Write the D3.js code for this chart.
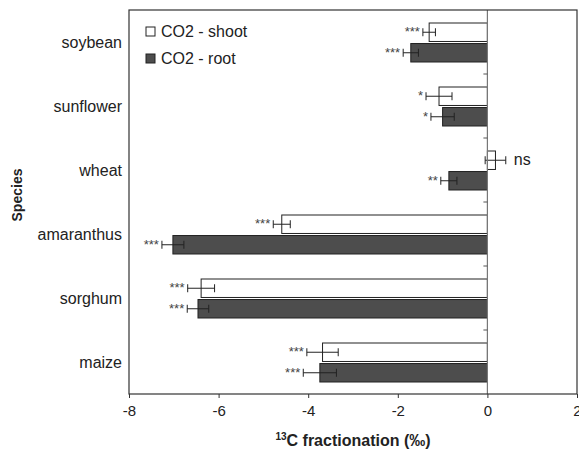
<!DOCTYPE html>
<html lang="en">
<head>
    <meta charset="UTF-8">
    <title>13C fractionation by species</title>
    <script src="https://d3js.org/d3.v7.min.js"></script>
    <style>
        body { margin: 0; background: #fff; }
        text { font-family: "Liberation Sans", Arial, sans-serif; fill: #222; }
        .star { font-size: 13px; fill: #444; }
    </style>
</head>
<body>
    <script>
        // Data
        const species = ["soybean", "sunflower", "wheat", "amaranthus", "sorghum", "maize"];
        const shootValues = [-1.30, -1.08, 0.18, -4.59, -6.39, -3.68];
        const shootErrors = [0.14, 0.29, 0.23, 0.19, 0.30, 0.35];
        const shootSig = ["***", "*", "ns", "***", "***", "***"];
        const rootValues = [-1.71, -1.00, -0.86, -7.02, -6.46, -3.74];
        const rootErrors = [0.17, 0.26, 0.18, 0.245, 0.24, 0.37];
        const rootSig = ["***", "*", "**", "***", "***", "***"];
        const xTicks = [-8, -6, -4, -2, 0, 2];

        const width = 579, height = 449;
        const margin = {top: 10, right: 2, bottom: 55, left: 129};
        const plotW = width - margin.left - margin.right;
        const plotH = height - margin.top - margin.bottom;

        const svg = d3.select("body").append("svg")
            .attr("width", width)
            .attr("height", height);

        const g = svg.append("g").attr("transform", `translate(${margin.left},${margin.top})`);

        const x = d3.scaleLinear().domain([-8, 2]).range([0, plotW]);
        const y = d3.scaleBand().domain(species).range([0, plotH]);
        const sub = d3.scaleBand().domain(["shoot", "root"]).range([13, y.bandwidth() - 12]).paddingInner(0.1);

        const series = [
            {key: "shoot", values: shootValues, errors: shootErrors, sig: shootSig, fill: "#fff"},
            {key: "root", values: rootValues, errors: rootErrors, sig: rootSig, fill: "#4d4d4d"}
        ];

        // bars, error bars, significance
        series.forEach(s => {
            const grp = g.append("g");
            species.forEach((sp, i) => {
                const v = s.values[i], e = s.errors[i];
                const y0 = y(sp) + sub(s.key);
                const h = sub.bandwidth();
                grp.append("rect")
                    .attr("x", x(Math.min(0, v)))
                    .attr("y", y0)
                    .attr("width", Math.abs(x(v) - x(0)))
                    .attr("height", h)
                    .attr("fill", s.fill)
                    .attr("stroke", "#222")
                    .attr("stroke-width", 1);
                const cy = y0 + h / 2;
                const x1 = x(v - e), x2 = x(v + e);
                grp.append("line").attr("x1", x1).attr("x2", x2).attr("y1", cy).attr("y2", cy)
                    .attr("stroke", "#222");
                [x1, x2].forEach(xx => grp.append("line")
                    .attr("x1", xx).attr("x2", xx).attr("y1", cy - 4).attr("y2", cy + 4)
                    .attr("stroke", "#222"));
                if (s.sig[i] === "ns") {
                    grp.append("text")
                        .attr("x", x2 + 8).attr("y", cy + 5)
                        .style("font-size", "16px")
                        .text("ns");
                } else {
                    grp.append("text")
                        .attr("class", "star")
                        .attr("x", x1 - 3).attr("y", cy + 4)
                        .attr("text-anchor", "end")
                        .text(s.sig[i]);
                }
            });
        });

        // zero line with category ticks
        g.append("line").attr("x1", x(0)).attr("x2", x(0)).attr("y1", 0).attr("y2", plotH)
            .attr("stroke", "#777").attr("stroke-width", 1.2);
        species.slice(1).forEach(sp => {
            g.append("line").attr("x1", x(0) - 4).attr("x2", x(0)).attr("y1", y(sp)).attr("y2", y(sp))
                .attr("stroke", "#555");
        });

        // frame
        g.append("rect").attr("width", plotW).attr("height", plotH)
            .attr("fill", "none").attr("stroke", "#333").attr("stroke-width", 1.2);

        // x axis
        const xAxis = g.append("g")
            .attr("transform", `translate(0,${plotH})`)
            .call(d3.axisBottom(x).tickValues(xTicks).tickSize(4).tickPadding(7).tickFormat(d => d));
        xAxis.select(".domain").remove();
        xAxis.selectAll("line").attr("stroke", "#333");
        xAxis.selectAll("text").style("font-family", null).style("font-size", "15px").attr("fill", "#222");

        // y labels
        g.selectAll(".ylab").data(species).enter().append("text")
            .attr("x", -7)
            .attr("y", d => y(d) + y.bandwidth() / 2 + 6)
            .attr("text-anchor", "end")
            .style("font-size", "16px")
            .text(d => d);

        // axis titles
        const xt = svg.append("text")
            .attr("x", margin.left + plotW / 2)
            .attr("y", 446)
            .attr("text-anchor", "middle")
            .style("font-size", "16px")
            .style("font-weight", "bold");
        xt.append("tspan").attr("dy", -6).style("font-size", "10px").text("13");
        xt.append("tspan").attr("dy", 6).text("C fractionation (‰)");

        svg.append("text")
            .attr("transform", `translate(22,195) rotate(-90)`)
            .attr("text-anchor", "middle")
            .style("font-size", "14px")
            .style("font-weight", "bold")
            .text("Species");

        // legend
        const legend = g.append("g").attr("transform", "translate(17,17)");
        series.forEach((s, i) => {
            const row = legend.append("g").attr("transform", `translate(0,${i * 27})`);
            row.append("rect").attr("width", 9).attr("height", 9)
                .attr("fill", s.fill).attr("stroke", "#222");
            row.append("text").attr("x", 15).attr("y", 10)
                .style("font-size", "16px")
                .text("CO2 - " + s.key);
        });
    </script>
</body>
</html>
